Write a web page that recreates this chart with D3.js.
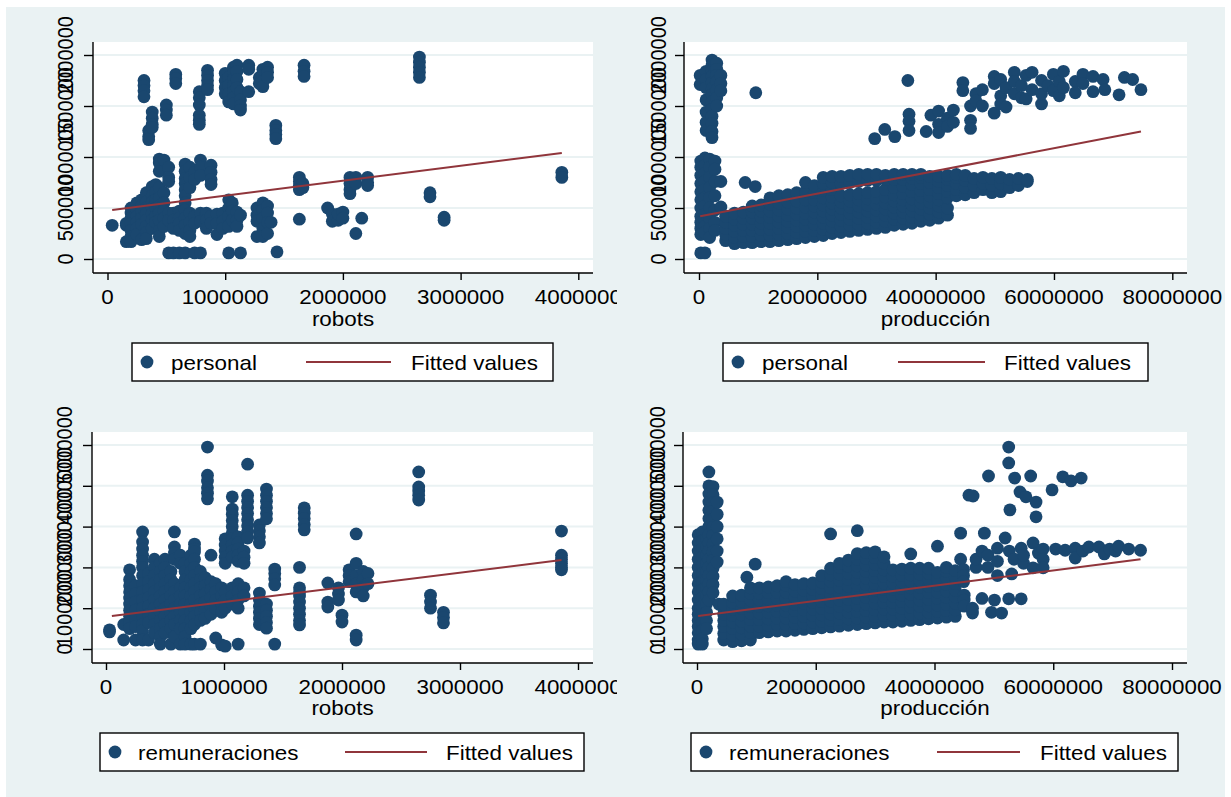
<!DOCTYPE html>
<html>
<head>
<meta charset="utf-8">
<script src="https://cdn.jsdelivr.net/npm/d3@7"></script>
<style>
  body { margin: 0; background: #fff; }
  text { font-family: 'Liberation Sans', Arial, sans-serif; fill: #000; }
</style>
</head>
<body>
<script>
'use strict';

// values, in millions: [x, [y, y, ...]] per vertical cluster
const robotsPersonal = [
  [0.31, [1.75, 1.70, 1.65, 1.59]], [0.35, [1.26, 1.20, 1.17]], [0.38, [1.44, 1.38, 1.32, 1.29]],
  [0.50, [1.51, 1.46, 1.41]], [0.58, [1.81, 1.77, 1.72]], [0.78, [1.64, 1.58, 1.51, 1.41, 1.36, 1.32]],
  [0.85, [1.85, 1.80, 1.75, 1.70, 1.66]], [1.00, [1.82, 1.75, 1.68, 1.62]], [1.03, [1.78, 1.70, 1.62, 1.54]],
  [1.07, [1.88, 1.82, 1.76, 1.70, 1.64, 1.58, 1.52]], [1.10, [1.90, 1.84, 1.76, 1.68]],
  [1.13, [1.64, 1.56, 1.50, 1.46]], [1.20, [1.90, 1.86, 1.64]], [1.29, [1.78, 1.72]],
  [1.32, [1.86, 1.80, 1.74, 1.69]], [1.36, [1.88, 1.83, 1.78]], [1.43, [1.31, 1.26, 1.22, 1.18]],
  [1.67, [1.90, 1.84, 1.79]], [2.65, [1.98, 1.93, 1.88, 1.83, 1.78]],
  [0.04, [0.33]], [0.16, [0.17, 0.33, 0.35]], [0.20, [0.50, 0.45, 0.40, 0.35, 0.28, 0.22, 0.17]],
  [0.25, [0.55, 0.48, 0.42, 0.36, 0.30, 0.24]], [0.29, [0.58, 0.52, 0.46, 0.40, 0.34, 0.19]],
  [0.33, [0.65, 0.56, 0.50, 0.44, 0.38, 0.32, 0.26, 0.20]], [0.38, [0.71, 0.62, 0.56, 0.50, 0.44, 0.38, 0.30]],
  [0.41, [0.73, 0.66, 0.58, 0.50, 0.42, 0.36]],
  [0.44, [0.98, 0.94, 0.86, 0.70, 0.60, 0.52, 0.45, 0.38, 0.28, 0.22]],
  [0.48, [0.97, 0.65, 0.55, 0.47, 0.40, 0.32]], [0.52, [0.90, 0.80, 0.76, 0.45, 0.38, 0.06]],
  [0.56, [0.45, 0.38, 0.30, 0.06]], [0.61, [0.47, 0.40, 0.35, 0.28, 0.06]],
  [0.66, [0.93, 0.86, 0.79, 0.74, 0.68, 0.62, 0.55, 0.48, 0.40, 0.33, 0.25, 0.06]],
  [0.70, [0.90, 0.80, 0.70, 0.45, 0.36, 0.28, 0.22]], [0.74, [0.85, 0.78, 0.42, 0.35, 0.06]],
  [0.79, [0.97, 0.90, 0.82, 0.45, 0.37, 0.06]], [0.84, [0.45, 0.38, 0.30]],
  [0.88, [0.92, 0.85, 0.78, 0.73, 0.42, 0.35]], [0.93, [0.44, 0.35, 0.24]], [0.98, [0.45, 0.37, 0.30]],
  [1.03, [0.58, 0.50, 0.42, 0.32, 0.06]], [1.06, [0.55, 0.47, 0.38]], [1.10, [0.46, 0.38, 0.32]],
  [1.13, [0.43, 0.06]], [1.27, [0.50, 0.43, 0.37, 0.22]], [1.32, [0.55, 0.48, 0.40, 0.30, 0.22]],
  [1.36, [0.52, 0.45, 0.36, 0.25]], [1.39, [0.36]], [1.44, [0.07]],
  [1.63, [0.80, 0.76, 0.72, 0.68, 0.39]], [1.66, [0.74, 0.70]], [1.87, [0.50]], [1.91, [0.44, 0.37]],
  [1.96, [0.38, 0.44]], [2.00, [0.46, 0.40]], [2.06, [0.80, 0.74, 0.68, 0.64]],
  [2.11, [0.80, 0.74, 0.25]], [2.16, [0.40]], [2.21, [0.80, 0.75, 0.72]],
  [2.74, [0.65, 0.61]], [2.86, [0.41, 0.38]], [3.86, [0.85, 0.80]]
];

const produccionPersonal = [
  [0.2, [1.80, 1.71]], [1.2, [1.84, 1.76, 1.68, 1.56, 1.44, 1.34, 1.26]],
  [2.2, [1.95, 1.90, 1.85, 1.79, 1.73, 1.67, 1.61, 1.54, 1.47, 1.40, 1.33, 1.25, 1.19]],
  [3.0, [1.92, 1.86, 1.80, 1.74, 1.66, 1.58, 1.50]], [3.7, [1.80, 1.72, 1.65]],
  [9.6, [1.63]], [35.3, [1.75]],
  [0.3, [0.96, 0.90, 0.82, 0.74, 0.66, 0.58, 0.50, 0.42, 0.36, 0.30, 0.24, 0.06]],
  [1.0, [0.99, 0.92, 0.84, 0.76, 0.68, 0.60, 0.52, 0.44, 0.38, 0.32, 0.26, 0.06]],
  [1.8, [0.98, 0.90, 0.80, 0.70, 0.60, 0.50, 0.40, 0.30, 0.21]],
  [2.7, [0.96, 0.88, 0.76, 0.62, 0.48, 0.36, 0.28]], [3.7, [0.76, 0.51]], [7.8, [0.75]], [9.5, [0.71]],
  [4.5, [0.18, 0.24, 0.30, 0.36, 0.42]], [6.0, [0.15, 0.21, 0.27, 0.33, 0.39, 0.45]],
  [7.5, [0.16, 0.22, 0.28, 0.34, 0.40, 0.46]], [9.0, [0.16, 0.22, 0.28, 0.34, 0.40, 0.46, 0.52]],
  [10.5, [0.17, 0.23, 0.29, 0.35, 0.41, 0.47, 0.53]], [12.0, [0.17, 0.23, 0.29, 0.35, 0.41, 0.47, 0.54, 0.60]],
  [13.5, [0.18, 0.24, 0.30, 0.36, 0.42, 0.48, 0.55, 0.62]], [15.0, [0.19, 0.25, 0.31, 0.37, 0.43, 0.49, 0.56, 0.63]],
  [16.5, [0.20, 0.26, 0.32, 0.38, 0.44, 0.50, 0.57, 0.65]],
  [18.0, [0.21, 0.27, 0.33, 0.39, 0.45, 0.51, 0.58, 0.66, 0.75]],
  [19.5, [0.22, 0.28, 0.34, 0.40, 0.46, 0.52, 0.58, 0.65, 0.72]],
  [21.0, [0.23, 0.29, 0.35, 0.41, 0.47, 0.53, 0.60, 0.67, 0.74, 0.80]],
  [22.5, [0.25, 0.31, 0.37, 0.43, 0.49, 0.55, 0.61, 0.68, 0.75, 0.81]],
  [24.0, [0.26, 0.32, 0.38, 0.44, 0.50, 0.56, 0.62, 0.74, 0.81]],
  [25.5, [0.27, 0.33, 0.39, 0.45, 0.51, 0.57, 0.63, 0.75, 0.82]],
  [27.0, [0.28, 0.34, 0.40, 0.46, 0.52, 0.58, 0.64, 0.76, 0.83]],
  [28.5, [0.29, 0.35, 0.41, 0.47, 0.53, 0.59, 0.65, 0.77, 0.83]],
  [30.0, [0.30, 0.36, 0.42, 0.48, 0.54, 0.60, 0.66, 0.77, 0.83]],
  [31.5, [0.31, 0.37, 0.43, 0.49, 0.55, 0.61, 0.68, 0.78, 0.82]],
  [33.0, [0.33, 0.39, 0.45, 0.51, 0.57, 0.63, 0.70, 0.78, 0.83]],
  [34.5, [0.34, 0.40, 0.46, 0.52, 0.58, 0.64, 0.71, 0.78, 0.83]],
  [36.0, [0.35, 0.41, 0.47, 0.53, 0.59, 0.66, 0.73, 0.79, 0.83]],
  [37.5, [0.37, 0.43, 0.49, 0.55, 0.61, 0.67, 0.74, 0.80, 0.83]],
  [39.0, [0.38, 0.44, 0.50, 0.56, 0.62, 0.68, 0.75, 0.81]],
  [40.5, [0.40, 0.46, 0.52, 0.58, 0.64, 0.70, 0.76, 0.81]],
  [42.0, [0.43, 0.50, 0.60, 0.66, 0.72, 0.78, 0.82]], [43.5, [0.62, 0.68, 0.74, 0.80, 0.83]],
  [45.0, [0.63, 0.70, 0.77, 0.82]], [46.5, [0.65, 0.72, 0.79]], [48.0, [0.68, 0.74, 0.80]],
  [49.5, [0.65, 0.72, 0.79]], [51.0, [0.66, 0.74, 0.80]], [52.5, [0.70, 0.78]], [54.0, [0.72, 0.79]],
  [55.5, [0.76, 0.78]],
  [29.7, [1.18]], [31.4, [1.27]], [33.1, [1.20]], [35.5, [1.42, 1.35, 1.26]], [38.4, [1.25]],
  [39.2, [1.41]], [40.5, [1.45, 1.32, 1.24]], [42.0, [1.38, 1.30]], [43.0, [1.46, 1.34]],
  [44.6, [1.73, 1.65]], [45.9, [1.50, 1.36, 1.28]], [46.8, [1.62, 1.55]], [47.9, [1.66, 1.50]],
  [49.9, [1.79, 1.72, 1.43]], [51.0, [1.76, 1.60, 1.52]], [51.9, [1.49, 1.68]],
  [53.3, [1.83, 1.74, 1.62]], [54.5, [1.70, 1.58]], [55.3, [1.80, 1.57]], [56.3, [1.83, 1.66]],
  [57.9, [1.75, 1.52, 1.62]], [59.0, [1.70]], [59.9, [1.81, 1.65]], [60.9, [1.74, 1.60]],
  [61.6, [1.84, 1.68]], [63.6, [1.74, 1.63]], [64.9, [1.81, 1.72]], [66.6, [1.79, 1.64]],
  [68.3, [1.76]], [68.6, [1.66]], [71.0, [1.61]], [71.9, [1.78]], [73.3, [1.76]], [74.7, [1.66]]
];

const robotsRemuneraciones = [
  [0.03, [0.47, 0.42]], [0.15, [0.60, 0.22]],
  [0.20, [1.94, 1.70, 1.55, 1.40, 1.25, 1.10, 0.95, 0.80, 0.65, 0.50]],
  [0.25, [1.55, 1.35, 1.15, 0.95, 0.75, 0.55, 0.22]],
  [0.31, [2.87, 2.62, 2.45, 2.30, 2.15, 2.00, 1.80, 1.60, 1.40, 1.20, 1.00, 0.80, 0.60, 0.45, 0.22]],
  [0.36, [1.85, 1.65, 1.45, 1.25, 1.05, 0.85, 0.65, 0.22]],
  [0.41, [2.20, 2.00, 1.80, 1.60, 1.40, 1.20, 1.00, 0.80, 0.60, 0.40]],
  [0.46, [2.10, 1.90, 1.70, 1.50, 1.30, 1.10, 0.90, 0.70, 0.50, 0.30, 0.12]],
  [0.50, [2.20, 2.00, 1.80, 1.60, 1.40, 1.20, 1.00, 0.80, 0.60, 0.40]],
  [0.55, [1.90, 1.70, 1.50, 1.30, 1.10, 0.90, 0.70, 0.50, 0.12]],
  [0.58, [2.87, 2.50, 2.35, 2.20, 1.60, 1.40, 1.20, 1.00, 0.80, 0.60, 0.30]],
  [0.63, [2.30, 2.10, 1.50, 1.30, 1.10, 0.90, 0.70, 0.50, 0.12]],
  [0.67, [2.10, 1.90, 1.70, 1.50, 1.30, 1.10, 0.90, 0.70, 0.50, 0.30, 0.12]],
  [0.72, [2.30, 2.10, 1.90, 1.70, 1.50, 1.30, 1.10, 0.90, 0.70, 0.50, 0.12]],
  [0.75, [2.57, 2.45, 2.38, 2.20, 2.00, 1.80, 1.60, 1.40, 1.20, 1.00, 0.80, 0.60, 0.12]],
  [0.80, [1.90, 1.70, 1.50, 1.30, 1.10, 0.90, 0.70, 0.12]],
  [0.84, [1.75, 1.55, 1.35, 1.15, 0.95, 0.75]],
  [0.86, [4.95, 4.26, 4.12, 3.95, 3.82, 3.68]],
  [0.89, [2.30, 1.65, 1.45, 1.25, 1.05, 0.85]], [0.93, [1.60, 1.40, 1.20, 1.00, 0.27]],
  [0.98, [1.50, 1.30, 1.10, 0.90, 0.10]],
  [1.01, [2.70, 2.55, 2.40, 2.25, 2.10, 1.40, 1.20, 1.00, 0.07]],
  [1.07, [3.73, 3.43, 3.30, 3.15, 3.00, 2.85, 2.70, 2.55, 2.40, 2.25, 1.50, 1.30, 1.10]],
  [1.12, [2.75, 2.60, 2.45, 2.30, 2.15, 1.60, 1.40, 1.20, 1.00, 0.12]],
  [1.17, [2.40, 2.25, 2.10, 1.50, 1.30]],
  [1.20, [4.53, 3.77, 3.62, 3.47, 3.32, 3.17, 3.02, 2.87, 2.72]],
  [1.30, [3.04, 2.90, 2.75, 2.60, 1.37, 1.20, 1.05, 0.90, 0.75, 0.60]],
  [1.36, [3.92, 3.77, 3.62, 3.47, 3.32, 3.19, 1.10, 0.95, 0.80, 0.65, 0.51]],
  [1.43, [1.96, 1.85, 1.72, 1.57, 0.12]],
  [1.64, [2.00, 1.50, 1.40, 1.30, 1.15, 1.00, 0.85, 0.70, 0.59]],
  [1.68, [3.46, 3.33, 3.20, 3.05, 2.92]], [1.88, [1.62, 1.15, 1.03]], [1.97, [1.50, 1.35, 1.20]],
  [2.00, [0.83, 0.66]], [2.06, [1.94, 1.80, 1.65]], [2.12, [2.82, 2.10, 1.80, 1.60, 1.40, 0.34, 0.22]],
  [2.18, [1.90, 1.70, 1.50, 1.30]], [2.22, [1.85, 1.60]],
  [2.65, [4.34, 3.97, 3.87, 3.77, 3.65]], [2.75, [1.32, 1.15, 1.00]], [2.86, [0.90, 0.77, 0.64]],
  [3.86, [2.89, 2.30, 2.20, 2.10, 2.00, 1.94]]
];

const produccionRemuneraciones = [
  [0.2, [2.80, 2.60, 2.40, 2.20, 2.00, 1.80, 1.60, 1.40, 1.20, 1.00, 0.85, 0.70, 0.55, 0.40, 0.22, 0.12]],
  [0.9, [2.87, 2.65, 2.45, 2.25, 2.05, 1.85, 1.65, 1.45, 1.25, 1.05, 0.85, 0.65, 0.45, 0.25, 0.12]],
  [1.6, [2.70, 2.50, 2.30, 2.10, 1.90, 1.70, 1.50, 1.30, 1.10, 0.90, 0.70, 0.50]],
  [2.0, [4.34, 4.00, 3.80, 3.60, 3.40, 3.20, 3.00, 2.80, 2.60, 2.40, 2.20, 2.00, 1.80, 1.60, 1.40, 1.20]],
  [2.7, [3.98, 3.78, 3.58, 3.38, 3.18, 2.98, 2.78, 2.58, 2.38, 2.18, 1.98, 1.78, 1.58, 1.38]],
  [3.4, [3.60, 3.30, 3.00, 2.70, 2.40, 2.13]], [3.7, [1.10]], [9.8, [2.08]], [8.4, [1.76]],
  [4.5, [0.22, 0.38, 0.55, 0.70, 0.85, 1.00, 1.10]],
  [6.0, [0.18, 0.34, 0.50, 0.66, 0.82, 0.98, 1.14, 1.30]],
  [7.5, [0.20, 0.36, 0.52, 0.68, 0.84, 1.00, 1.16, 1.32]],
  [9.0, [0.22, 0.40, 0.56, 0.72, 0.88, 1.04, 1.20, 1.36, 1.50]],
  [10.5, [0.40, 0.56, 0.72, 0.88, 1.04, 1.20, 1.36, 1.50]],
  [12.0, [0.42, 0.58, 0.74, 0.90, 1.06, 1.22, 1.38, 1.52]],
  [13.5, [0.44, 0.60, 0.76, 0.92, 1.08, 1.24, 1.40, 1.55]],
  [15.0, [0.44, 0.60, 0.76, 0.92, 1.08, 1.24, 1.40, 1.56, 1.65]],
  [16.5, [0.46, 0.62, 0.78, 0.94, 1.10, 1.26, 1.42, 1.58]],
  [18.0, [0.48, 0.64, 0.80, 0.96, 1.12, 1.28, 1.44, 1.60]],
  [19.5, [0.50, 0.66, 0.82, 0.98, 1.14, 1.30, 1.46, 1.62]],
  [21.0, [0.52, 0.68, 0.84, 1.00, 1.16, 1.32, 1.48, 1.64, 1.80]],
  [22.5, [0.54, 0.70, 0.86, 1.02, 1.18, 1.34, 1.50, 1.66, 1.82, 1.98, 2.82]],
  [24.0, [0.56, 0.72, 0.88, 1.04, 1.20, 1.36, 1.52, 1.68, 1.84, 2.00, 2.10]],
  [25.5, [0.58, 0.74, 0.90, 1.06, 1.22, 1.38, 1.54, 1.70, 1.86, 2.02, 2.18]],
  [27.0, [0.60, 0.76, 0.92, 1.08, 1.24, 1.40, 1.56, 1.72, 1.88, 2.04, 2.20, 2.34, 2.90]],
  [28.5, [0.62, 0.78, 0.94, 1.10, 1.26, 1.42, 1.58, 1.74, 1.90, 2.06, 2.22, 2.36]],
  [30.0, [0.64, 0.80, 0.96, 1.12, 1.28, 1.44, 1.60, 1.76, 1.92, 2.08, 2.24, 2.38]],
  [31.5, [0.66, 0.82, 0.98, 1.14, 1.30, 1.46, 1.62, 1.78, 1.94, 2.10, 2.26]],
  [33.0, [0.66, 0.82, 0.98, 1.14, 1.30, 1.46, 1.62, 1.78, 1.94]],
  [34.5, [0.68, 0.84, 1.00, 1.16, 1.32, 1.48, 1.64, 1.80, 1.96]],
  [36.0, [0.70, 0.86, 1.02, 1.18, 1.34, 1.50, 1.66, 1.82, 1.98, 2.33]],
  [37.5, [0.72, 0.88, 1.04, 1.20, 1.36, 1.52, 1.68, 1.84, 1.98]],
  [39.0, [0.74, 0.90, 1.06, 1.22, 1.38, 1.54, 1.70, 1.86, 1.98]],
  [40.5, [0.76, 0.92, 1.08, 1.24, 1.40, 1.56, 1.72, 1.88, 2.52]],
  [42.0, [0.78, 0.94, 1.10, 1.26, 1.42, 1.58, 1.74, 1.90, 2.00]],
  [43.5, [0.80, 0.96, 1.12, 1.28, 1.44, 1.60, 1.76, 1.92]],
  [44.4, [2.84, 2.20]], [45.0, [1.32, 1.20, 1.05]], [45.8, [3.77]], [46.4, [0.88, 1.00]],
  [46.5, [3.75]], [44.9, [1.95, 1.80, 1.65]], [47.0, [2.00, 2.20]], [48.0, [1.24, 2.40]],
  [48.4, [2.84]], [49.0, [2.00, 2.30]], [49.1, [4.24]], [49.6, [0.90]], [50.1, [1.20]],
  [50.6, [2.47, 2.15, 1.80]], [51.3, [0.88]], [51.9, [2.72]], [52.5, [4.95, 4.56, 1.23]],
  [52.6, [2.40]], [52.7, [3.41]], [53.0, [1.84]], [53.4, [2.20]], [53.5, [4.19]], [54.4, [3.85]],
  [54.6, [1.23, 2.47]], [55.0, [2.10, 2.30]], [55.4, [3.73]], [56.2, [4.24]], [56.6, [2.60, 1.99]],
  [57.1, [3.60, 3.24]], [57.5, [2.35]], [58.3, [2.45, 2.20, 1.99]], [59.8, [3.90]], [60.4, [2.45]],
  [61.6, [4.22]], [62.0, [2.42]], [63.0, [4.12]], [63.7, [2.47, 2.23]], [64.7, [4.19]],
  [65.0, [2.40]], [66.0, [2.50]], [67.7, [2.50]], [68.6, [2.33]], [69.5, [2.45]], [70.5, [2.40]],
  [71.0, [2.52]], [72.7, [2.45]], [74.7, [2.42]]
];

// fitted values: line end points, millions
const fitRobotsPersonal = [[0.04, 0.48], [3.86, 1.04]];
const fitProduccionPersonal = [[0.2, 0.42], [74.7, 1.25]];
const fitRobotsRemuneraciones = [[0.05, 0.81], [3.86, 2.18]];
const fitProduccionRemuneraciones = [[0.2, 0.81], [74.7, 2.20]];

// tick values, millions
const robotsTicks = [0, 1, 2, 3, 4];
const produccionTicks = [0, 20, 40, 60, 80];
const personalTicks = [0, 0.5, 1, 1.5, 2];
const remuneracionesTicks = [0, 1, 2, 3, 4, 5];

const UNIT = 1e6;
const navy = '#1a476f';
const maroon = '#90353b';
const bg = '#eaf2f3';
const stretch = 'scale(1.12,1)';

const svg = d3.select('body').append('svg')
  .attr('width', 1231)
  .attr('height', 797);

svg.append('rect')
  .attr('x', 6).attr('y', 7)
  .attr('width', 1219).attr('height', 790)
  .attr('fill', bg);

const panels = [
  { id: 'tl', clip: [0, 617], data: robotsPersonal, fit: fitRobotsPersonal,
    xTicks: robotsTicks, yTicks: personalTicks, xTitle: 'robots', name: 'personal',
    plot: { left: 93, right: 593, top: 42, bottom: 273 }, xRange: [107.5, 578.3], xMax: 4,
    yRange: [259, 55], yMax: 2, yLabelX: 73, tickY: 304, titleY: 326,
    legend: { x: 132, w: 421, y: 343, label: 39, line: [174, 259], fitted: 279 } },
  { id: 'tr', clip: [617, 1231], data: produccionPersonal, fit: fitProduccionPersonal,
    xTicks: produccionTicks, yTicks: personalTicks, xTitle: 'producción', name: 'personal',
    plot: { left: 684, right: 1187, top: 42, bottom: 273 }, xRange: [699, 1172.3], xMax: 80,
    yRange: [259, 55], yMax: 2, yLabelX: 666, tickY: 304, titleY: 326,
    legend: { x: 723, w: 425, y: 343, label: 39, line: [175, 262], fitted: 281 } },
  { id: 'bl', clip: [0, 617], data: robotsRemuneraciones, fit: fitRobotsRemuneraciones,
    xTicks: robotsTicks, yTicks: remuneracionesTicks, xTitle: 'robots', name: 'remuneraciones',
    plot: { left: 92, right: 593, top: 432, bottom: 663 }, xRange: [106, 578], xMax: 4,
    yRange: [649, 445], yMax: 5, yLabelX: 72, tickY: 694, titleY: 715,
    legend: { x: 100, w: 484, y: 733, label: 38, line: [245, 327], fitted: 346 } },
  { id: 'br', clip: [617, 1231], data: produccionRemuneraciones, fit: fitProduccionRemuneraciones,
    xTicks: produccionTicks, yTicks: remuneracionesTicks, xTitle: 'producción', name: 'remuneraciones',
    plot: { left: 683, right: 1187, top: 432, bottom: 663 }, xRange: [697, 1172], xMax: 80,
    yRange: [649, 445], yMax: 5, yLabelX: 665, tickY: 694, titleY: 715,
    legend: { x: 691, w: 487, y: 733, label: 38, line: [246, 329], fitted: 349 } }
];

const fmt = d => d3.format('d')(Math.round(d * UNIT));

panels.forEach(p => {
  svg.append('clipPath').attr('id', 'clip-' + p.id)
    .append('rect')
    .attr('x', p.clip[0]).attr('y', 0)
    .attr('width', p.clip[1] - p.clip[0]).attr('height', 797);

  const g = svg.append('g').attr('clip-path', `url(#clip-${p.id})`);

  const x = d3.scaleLinear().domain([0, p.xMax]).range(p.xRange);
  const y = d3.scaleLinear().domain([0, p.yMax]).range(p.yRange);
  const pl = p.plot;

  g.append('rect')
    .attr('x', pl.left).attr('y', pl.top)
    .attr('width', pl.right - pl.left).attr('height', pl.bottom - pl.top)
    .attr('fill', '#fff');

  // grid
  g.append('g').selectAll('line')
    .data(p.yTicks)
    .enter().append('line')
    .attr('x1', pl.left).attr('x2', pl.right)
    .attr('y1', d => y(d)).attr('y2', d => y(d))
    .attr('stroke', bg).attr('stroke-width', 2);

  // points
  const points = p.data.flatMap(([xv, ys]) => ys.map(yv => [xv, yv]));
  g.append('g').selectAll('circle')
    .data(points)
    .enter().append('circle')
    .attr('cx', d => x(d[0]))
    .attr('cy', d => y(d[1]))
    .attr('r', 6.4)
    .attr('fill', navy);

  // fitted line
  g.append('path')
    .datum(p.fit)
    .attr('d', d3.line().x(d => x(d[0])).y(d => y(d[1])))
    .attr('fill', 'none')
    .attr('stroke', maroon)
    .attr('stroke-width', 2);

  // axes
  g.append('g')
    .attr('transform', `translate(0,${pl.bottom})`)
    .call(d3.axisBottom(x).tickValues(p.xTicks).tickSize(7).tickFormat(''))
    .call(a => a.select('.domain').attr('d', `M${pl.left},0H${pl.right}`))
    .call(a => a.selectAll('line, path').attr('stroke', '#000').attr('stroke-width', 1.4));

  g.append('g')
    .attr('transform', `translate(${pl.left},0)`)
    .call(d3.axisLeft(y).tickValues(p.yTicks).tickSize(9).tickFormat(''))
    .call(a => a.select('.domain').attr('d', `M0,${pl.top}V${pl.bottom}`))
    .call(a => a.selectAll('line, path').attr('stroke', '#000').attr('stroke-width', 1.4));

  g.append('g').selectAll('text')
    .data(p.xTicks)
    .enter().append('text')
    .attr('transform', d => `translate(${x(d)},${p.tickY}) ${stretch}`)
    .attr('text-anchor', 'middle')
    .style('font-size', '20px')
    .text(fmt);

  g.append('g').selectAll('text')
    .data(p.yTicks)
    .enter().append('text')
    .attr('transform', d => `translate(${p.yLabelX},${y(d)}) ${stretch} rotate(-90)`)
    .attr('text-anchor', 'middle')
    .style('font-size', '20px')
    .text(fmt);

  g.append('text')
    .attr('transform', `translate(${(pl.left + pl.right) / 2},${p.titleY}) ${stretch}`)
    .attr('text-anchor', 'middle')
    .style('font-size', '20px')
    .text(p.xTitle);

  // legend
  const lg = p.legend;
  const leg = g.append('g').attr('transform', `translate(${lg.x},${lg.y})`);
  leg.append('rect')
    .attr('width', lg.w).attr('height', 38)
    .attr('fill', '#fff').attr('stroke', '#000').attr('stroke-width', 1.4);
  leg.append('circle')
    .attr('cx', 15).attr('cy', 19).attr('r', 6.4).attr('fill', navy);
  leg.append('text')
    .attr('transform', `translate(${lg.label},27) ${stretch}`)
    .style('font-size', '20px')
    .text(p.name);
  leg.append('line')
    .attr('x1', lg.line[0]).attr('x2', lg.line[1])
    .attr('y1', 19).attr('y2', 19)
    .attr('stroke', maroon).attr('stroke-width', 2);
  leg.append('text')
    .attr('transform', `translate(${lg.fitted},27) ${stretch}`)
    .style('font-size', '20px')
    .text('Fitted values');
});
</script>
</body>
</html>
